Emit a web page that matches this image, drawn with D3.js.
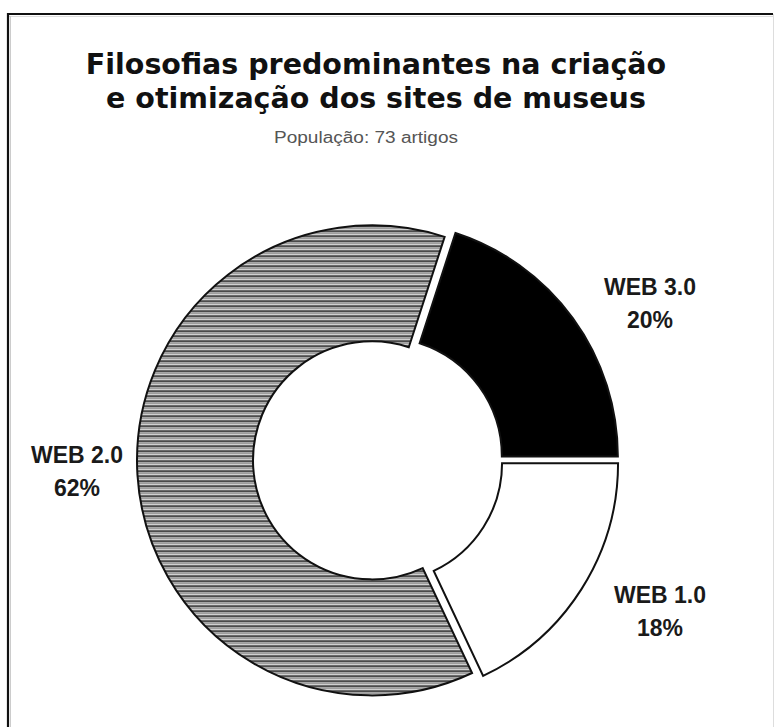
<!DOCTYPE html>
<html>
<head>
<meta charset="utf-8">
<script src="https://cdn.jsdelivr.net/npm/d3@7"></script>
<style>
  html, body { margin: 0; padding: 0; background: #ffffff; }
  svg { display: block; }
</style>
</head>
<body>
<svg id="chart" width="777" height="727"></svg>
<script>
// Share of each web philosophy among the 73 reviewed articles
const categories = ["WEB 3.0", "WEB 1.0", "WEB 2.0"];
const percentages = [20, 18, 62];
const titleLines = ["Filosofias predominantes na criação", "e otimização dos sites de museus"];
const subtitle = "População: 73 artigos";

const svg = d3.select("#chart");
const W = 777, H = 727;

// frame: dark edge on top/left, light edge on the right
svg.append("rect").attr("x", 0).attr("y", 0).attr("width", W).attr("height", H).attr("fill", "#fff");
svg.append("line").attr("x1", 8).attr("x2", 773).attr("y1", 14).attr("y2", 14)
  .attr("stroke", "#111").attr("stroke-width", 2.2);
svg.append("line").attr("x1", 8).attr("x2", 773).attr("y1", 16.5).attr("y2", 16.5)
  .attr("stroke", "#ddd").attr("stroke-width", 1);
svg.append("line").attr("x1", 8).attr("x2", 8).attr("y1", 13).attr("y2", H)
  .attr("stroke", "#111").attr("stroke-width", 2.2);
svg.append("line").attr("x1", 10.5).attr("x2", 10.5).attr("y1", 16).attr("y2", H)
  .attr("stroke", "#ccc").attr("stroke-width", 1);
svg.append("line").attr("x1", 773.5).attr("x2", 773.5).attr("y1", 14).attr("y2", H)
  .attr("stroke", "#ddd").attr("stroke-width", 1);

// horizontal hatching for the largest slice
const defs = svg.append("defs");
const pat = defs.append("pattern").attr("id", "hatch")
  .attr("patternUnits", "userSpaceOnUse").attr("width", 10).attr("height", 5);
pat.append("rect").attr("width", 10).attr("height", 5).attr("fill", "#fff");
pat.append("rect").attr("y", 0).attr("width", 10).attr("height", 1.6).attr("fill", "#111");
pat.append("rect").attr("y", 2.6).attr("width", 10).attr("height", 1.3).attr("fill", "#777");

// titles
const title = svg.append("text").attr("text-anchor", "middle")
  .attr("font-family", "'DejaVu Sans', Verdana, sans-serif").attr("font-weight", "bold")
  .attr("font-size", 28.5).attr("fill", "#111");
titleLines.forEach((t, i) => {
  title.append("tspan").attr("x", 376).attr("y", 74 + i * 34).text(t);
});
svg.append("text").attr("x", 366).attr("y", 143).attr("text-anchor", "middle")
  .attr("font-family", "'Liberation Sans', Arial, sans-serif").attr("font-size", 16)
  .attr("textLength", 184).attr("lengthAdjust", "spacingAndGlyphs")
  .attr("fill", "#555").text(subtitle);

// doughnut
const cx = 378, cy = 460, outerR = 235, innerR = 119, explode = 6;
const start = Math.PI / 2 - (percentages[0] / 100) * 2 * Math.PI;
const pie = d3.pie().sort(null).value(d => d.v)
  .startAngle(start).endAngle(start + 2 * Math.PI);
const arc = d3.arc().innerRadius(innerR).outerRadius(outerR);
const data = categories.map((c, i) => ({ c, v: percentages[i] }));
const fills = { "WEB 3.0": "#000", "WEB 1.0": "#fff", "WEB 2.0": "url(#hatch)" };

const g = svg.append("g").attr("transform", `translate(${cx},${cy})`);
g.selectAll("path").data(pie(data)).join("path")
  .attr("transform", d => {
    const a = (d.startAngle + d.endAngle) / 2;
    return `translate(${explode * Math.sin(a)},${-explode * Math.cos(a)})`;
  })
  .attr("d", arc)
  .attr("fill", d => fills[d.data.c])
  .attr("stroke", "#111")
  .attr("stroke-width", 2)
  .attr("stroke-linejoin", "miter");

// slice labels
const labelPos = { "WEB 3.0": [650, 295], "WEB 1.0": [660, 603], "WEB 2.0": [77, 463] };
const lab = svg.append("g").attr("font-family", "'Liberation Sans', Arial, sans-serif")
  .attr("font-weight", "bold").attr("font-size", 23).attr("fill", "#1a1a1a")
  .attr("text-anchor", "middle");
data.forEach(d => {
  const [x, y] = labelPos[d.c];
  const t = lab.append("text");
  t.append("tspan").attr("x", x).attr("y", y).text(d.c);
  t.append("tspan").attr("x", x).attr("y", y + 33).text(d.v + "%");
});
</script>
</body>
</html>
